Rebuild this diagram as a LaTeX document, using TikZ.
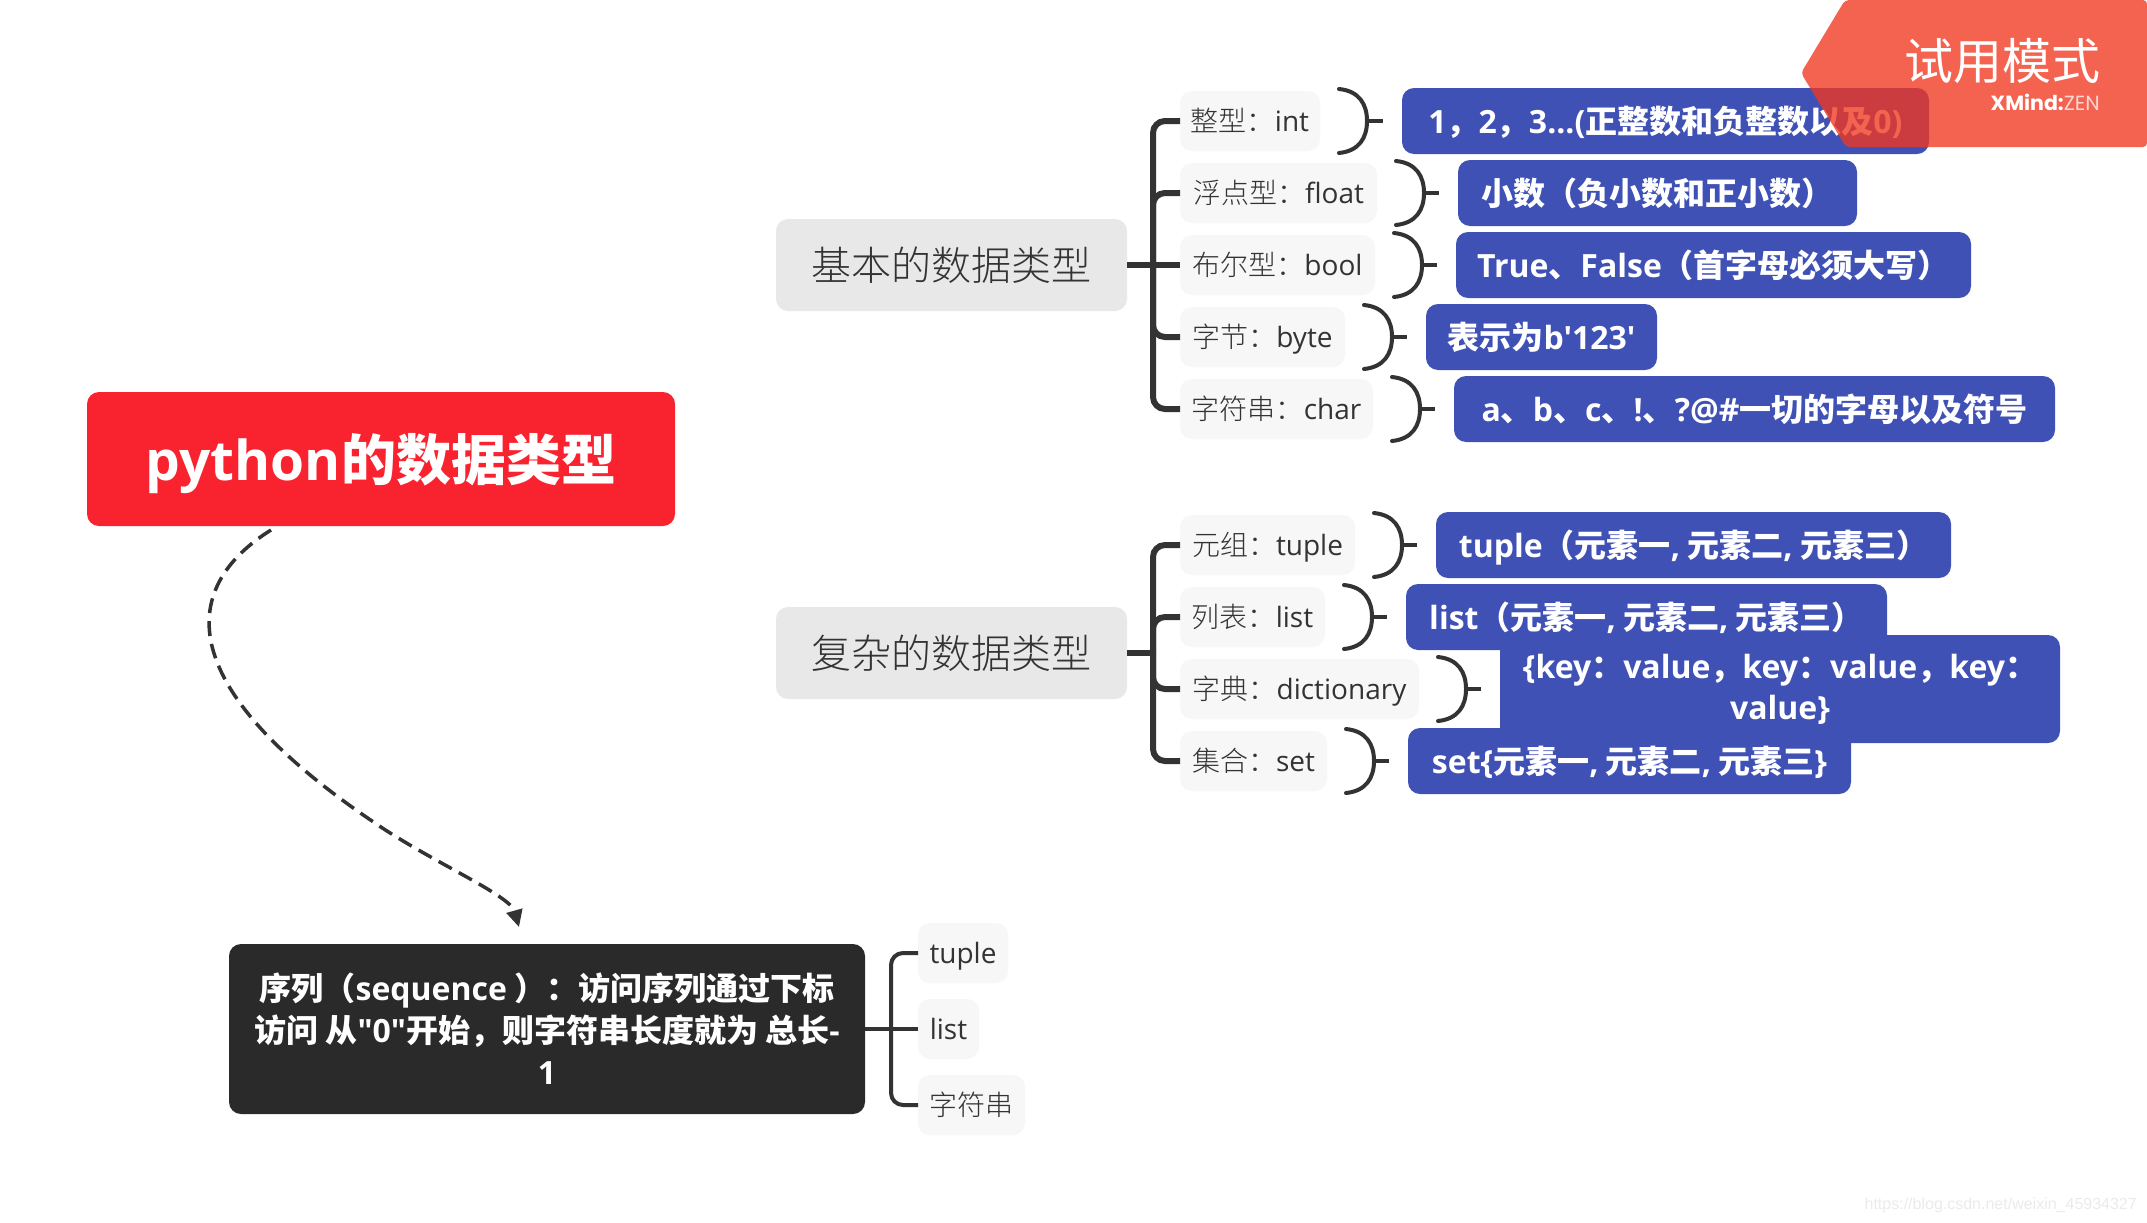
\documentclass[tikz,border=0pt]{standalone}
\usepackage{fontspec}
\setmainfont{Noto Sans CJK SC}
\newfontfamily\lat{Open Sans}
\newfontfamily\cjkl{Noto Sans CJK SC Light}
\newfontfamily\popb{Poppins}
\newfontfamily\urlf{Liberation Sans}
\usetikzlibrary{calc,backgrounds,arrows.meta}
\definecolor{linec}{HTML}{333333}
\definecolor{rootc}{HTML}{F9232F}
\definecolor{bluec}{HTML}{4051B5}
\definecolor{mainc}{HTML}{E8E8E8}
\definecolor{subc}{HTML}{F7F7F7}
\definecolor{darkc}{HTML}{2A2A2A}
\definecolor{markc}{HTML}{F2371F}
\tikzset{
  x=1pt,y=-1pt,
  anyround/.style={rounded corners=12pt,inner sep=0pt,outer sep=0pt},
  rootbox/.style={anyround,fill=rootc,text=white,font=\fontsize{55}{60}\selectfont\bfseries,text height=50pt,text depth=8pt,minimum width=588pt,minimum height=134pt,anchor=west},
  mainbox/.style={anyround,fill=mainc,text=linec,font=\fontsize{40}{46}\selectfont\cjkl,text height=38pt,text depth=8pt,minimum width=351pt,minimum height=92pt,anchor=west},
  subbox/.style={anyround,fill=subc,text=linec,font=\fontsize{28}{32}\selectfont\cjkl,text height=26pt,text depth=5pt,minimum height=60pt,anchor=west},
  bluebox/.style={anyround,fill=bluec,text=white,font=\fontsize{32}{41}\selectfont\bfseries,align=center,minimum height=66pt,anchor=west},
  blueline/.style={bluebox,text height=30pt,text depth=6pt},
  darkbox/.style={anyround,fill=darkc,text=white,font=\fontsize{32}{42}\selectfont\bfseries,align=center,minimum width=636pt,minimum height=170pt,anchor=west},
  thick branch/.style={draw=linec,line width=6pt,rounded corners=12pt},
  thin branch/.style={draw=linec,line width=4pt,rounded corners=12pt},
  curvy/.style={draw=linec,line width=4pt,line cap=round},
}
\newcommand{\bracelink}[2]{%
  \draw[curvy] ($(#1.east)+(19,-32)$) .. controls +(20,2) and +(0,-17) .. ($(#1.east)+(47,0)$) .. controls +(0,17) and +(20,-2) .. ($(#1.east)+(19,32)$);
  \draw[curvy,line cap=butt] ($(#1.east)+(47,0)$) -- ($(#2.west)+(-19,0)$);
}
\begin{document}
\begin{tikzpicture}
\useasboundingbox (0,0) rectangle (2147,1223);
\fill[white] (0,0) rectangle (2147,1223);

\node[rootbox] (root) at (87,459) {{\lat python}的数据类型};
\node[mainbox] (basic) at (776,265) {基本的数据类型};
\node[mainbox] (complex) at (776,653) {复杂的数据类型};

\coordinate (rootA) at (591,410);
\coordinate (rootB) at (591,508);
\begin{pgfonlayer}{background}
\fill[linec] (rootA) ++(-3,0) .. controls (610,300) and (680,261) .. ($(basic.west)+(0,-5)$) -- ($(basic.west)+(0,5)$) .. controls (684,269) and (616,303) .. ($(rootA)+(3,0)$) -- cycle;
\fill[linec] (rootB) ++(-3,0) .. controls (610,618) and (680,657) .. ($(complex.west)+(0,5)$) -- ($(complex.west)+(0,-5)$) .. controls (684,649) and (616,615) .. ($(rootB)+(3,0)$) -- cycle;
\end{pgfonlayer}

% group one
\node[subbox,minimum width=140pt] (s1) at (1180,121) {整型：{\lat int}};
\node[subbox,minimum width=197pt] (s2) at (1180,193) {浮点型：{\lat float}};
\node[subbox,minimum width=195pt] (s3) at (1180,265) {布尔型：{\lat bool}};
\node[subbox,minimum width=165pt] (s4) at (1180,337) {字节：{\lat byte}};
\node[subbox,minimum width=193pt] (s5) at (1180,409) {字符串：{\lat char}};
\node[blueline,minimum width=527pt] (b1) at (1402,121) {{\lat 1}，{\lat 2}，{\lat 3...(}正整数和负整数以及{\lat 0)}};
\node[blueline,minimum width=399pt] (b2) at (1458,193) {小数（负小数和正小数）};
\node[blueline,minimum width=515pt] (b3) at (1456,265) {{\lat True}、{\lat False}（首字母必须大写）};
\node[blueline,minimum width=231pt] (b4) at (1426,337) {表示为{\lat b'123'}};
\node[blueline,minimum width=601pt] (b5) at (1454,409) {{\lat a}、{\lat b}、{\lat c}、{\lat !}、{\lat ?@\#}一切的字母以及符号};
\coordinate (trunkA) at (1153,265);
\draw[thick branch] (basic.east) -- (s3.west);
\foreach \n in {s1,s2,s4,s5} \draw[thick branch] (trunkA) |- (\n.west);
\foreach \a/\b in {s1/b1,s2/b2,s3/b3,s4/b4,s5/b5} {\bracelink{\a}{\b}}

% group two
\node[subbox,minimum width=175pt] (t1) at (1180,545) {元组：{\lat tuple}};
\node[subbox,minimum width=145pt] (t2) at (1180,617) {列表：{\lat list}};
\node[subbox,minimum width=239pt] (t3) at (1180,689) {字典：{\lat dictionary}};
\node[subbox,minimum width=147pt] (t4) at (1180,761) {集合：{\lat set}};
\node[blueline,minimum width=515pt] (c1) at (1436,545) {{\lat tuple}（元素一{\lat ,} 元素二{\lat ,} 元素三）};
\node[bluebox,minimum width=560pt,minimum height=108pt] (c3) at (1500,689) {{\lat \{key}：{\lat value}，{\lat key}：{\lat value}，{\lat key}：\\{\lat value\}}};
\node[blueline,minimum width=481pt] (c2) at (1406,617) {{\lat list}（元素一{\lat ,} 元素二{\lat ,} 元素三）};
\node[blueline,minimum width=443pt] (c4) at (1408,761) {{\lat set\{}元素一{\lat ,} 元素二{\lat ,} 元素三{\lat \}}};
\coordinate (trunkB) at (1153,653);
\draw[thick branch] (complex.east) -- (trunkB);
\foreach \n in {t1,t2,t3,t4} \draw[thick branch] (trunkB) |- (\n.west);
\foreach \a/\b in {t1/c1,t2/c2,t3/c3,t4/c4} {\bracelink{\a}{\b}}

% sequence
\node[darkbox] (seq) at (229,1029) {序列（{\lat sequence} ）：访问序列通过下标\\访问 从{\lat "0"}开始，则字符串长度就为 总长{\lat -}\\{\lat 1}};
\node[subbox,minimum width=90pt] (q1) at (918,953) {\lat tuple};
\node[subbox,minimum width=61pt] (q2) at (918,1029) {\lat list};
\node[subbox,minimum width=107pt] (q3) at (918,1105) {字符串};
\coordinate (trunkC) at (891,1029);
\draw[thin branch] (seq.east) -- (q2.west);
\draw[thin branch] (trunkC) |- (q1.west);
\draw[thin branch] (trunkC) |- (q3.west);

% dashed relation
\coordinate (dashA) at (271,530);
\coordinate (dashB) at (519,927);
\draw[draw=linec,line width=3.5pt,dash pattern=on 15pt off 8pt,-{Triangle[length=17pt,width=16pt]}]
  (dashA) .. controls (175,590) and (177,690) .. (375,823) .. controls (430,861) and (510,895) .. (dashB);

% watermark
\fill[markc,fill opacity=.78,rounded corners=4pt] (1845,0) -- (2147,0) -- (2147,147) -- (1846,147) -- (1801,73) -- cycle;
\node[text=white,font=\fontsize{49}{52}\selectfont,inner sep=0pt,anchor=east] (wm) at (2101,61) {试用模式};
\node[text=white,font=\fontsize{20.5}{24}\selectfont\popb,inner sep=0pt,anchor=east] (wm2) at (2100,102) {{\bfseries XMind:}{\color{white!80!markc}ZEN}};
\node[text=black!8,font=\fontsize{16}{20}\selectfont\urlf,inner sep=0pt,anchor=east] (url) at (2137,1205) {https://blog.csdn.net/weixin\_45934327};
\end{tikzpicture}
\end{document}
